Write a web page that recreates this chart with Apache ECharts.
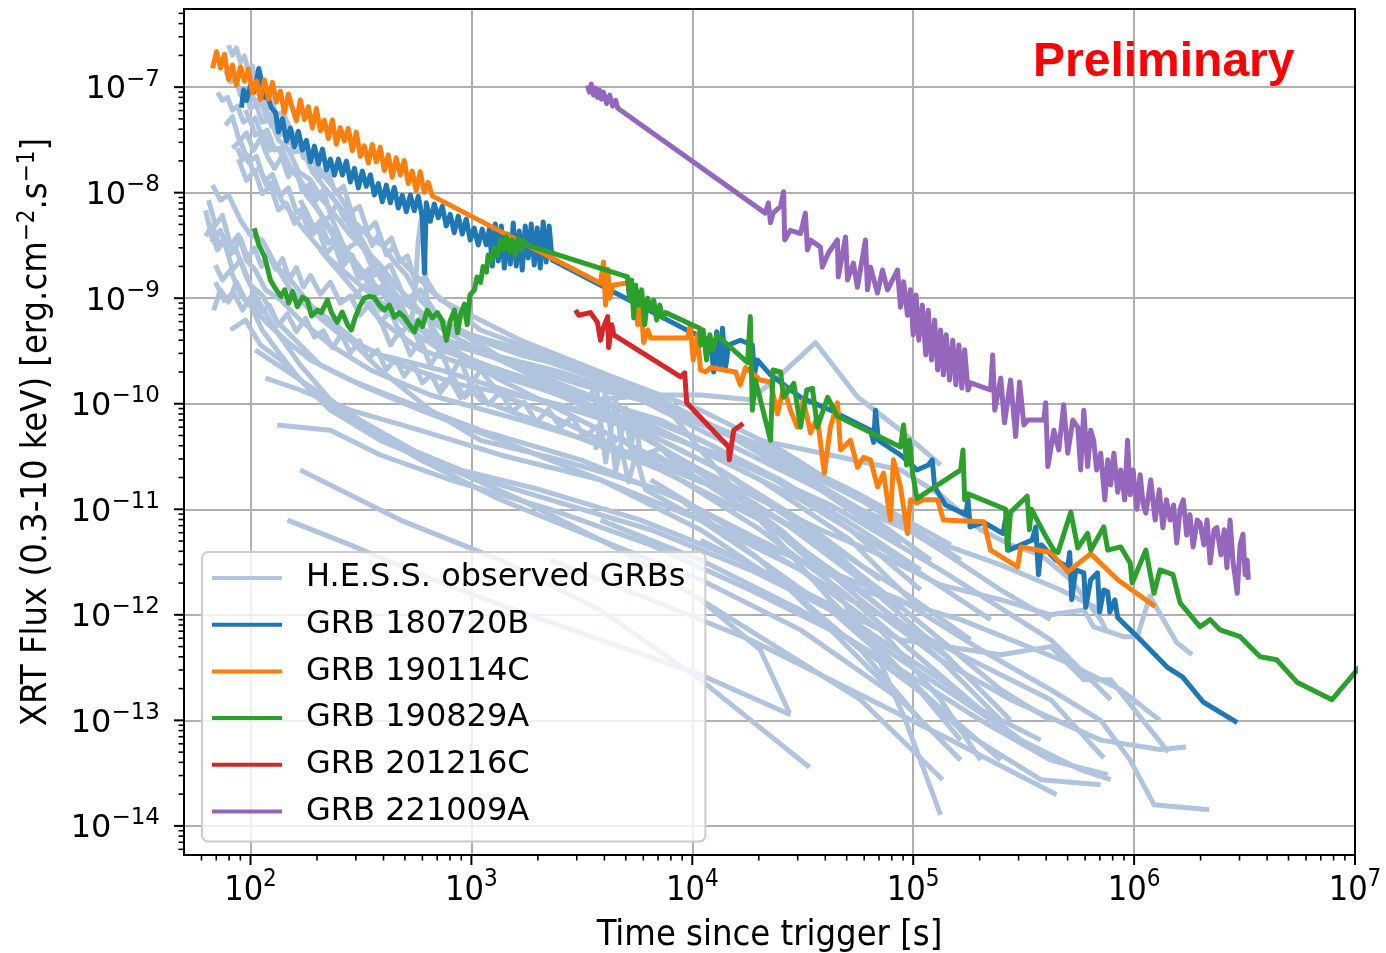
<!DOCTYPE html>
<html><head><meta charset="utf-8">
<script src="https://cdn.jsdelivr.net/npm/echarts@6/dist/echarts.min.js"></script>
<style>html,body{margin:0;padding:0;background:#fff}#c{width:1386px;height:953px}</style>
</head><body><div id="c"></div>
<script>
// ---------------- axes ----------------
const X_MIN = 50, X_MAX = 1e7;
const Y_MIN = 5.3e-15, Y_MAX = 5.5e-7;
const xTickExponents = [2, 3, 4, 5, 6, 7];
const yTickExponents = [-14, -13, -12, -11, -10, -9, -8, -7];
const HESS = 'H.E.S.S. observed GRBs';
const seriesNames = [HESS, 'GRB 180720B', 'GRB 190114C', 'GRB 190829A', 'GRB 201216C', 'GRB 221009A'];
const seriesColors = ['#b0c4de', '#1f77b4', '#ff7f0e', '#2ca02c', '#d62728', '#9467bd'];

// ---------------- H.E.S.S. light curves [time s, flux] ----------------
const hess01 = [[79.5,2.5e-7],[82.8,2.01e-7],[86.3,2.35e-7],[90.1,1.73e-7],[93.9,1.97e-7],[97.9,1.39e-7],[102,1.58e-7],[106,1.04e-7],[111,1.16e-7],[117,7.5e-8],[123,8.4e-8],[131,5.4e-8],[140,5.8e-8],[152,3.9e-8],[165,3.3e-8],[179,2.53e-8],[197,1.95e-8],[218,1.38e-8],[242,1.06e-8],[269,7.6e-9],[307,4.2e-9],[349,2.56e-9],[387,1.56e-9],[430,1.14e-9],[477,9.6e-10],[652,6.2e-10],[1355,3.6e-10],[3840,1.68e-10],[10900,7.0e-11],[30900,2.36e-11],[87600,7.9e-12],[164000,3.3e-12]];
const hess02 = [[70.9,8.9e-8],[74.6,7.5e-8],[78.7,8.0e-8],[82.8,6.06e-8],[87.3,6.6e-8],[92.9,4.66e-8],[99,5.1e-8],[105,3.51e-8],[113,3.75e-8],[123,2.53e-8],[134,2.64e-8],[147,1.71e-8],[162,1.47e-8],[179,9.5e-9],[203,6.8e-9],[230,4.6e-9],[269,2.98e-9],[314,1.93e-9],[367,1.33e-9],[430,9.6e-10],[529,6.2e-10],[724,4.0e-10],[1355,2.6e-10],[3840,1.09e-10],[10900,4.5e-11],[25100,1.9e-11],[57700,6.4e-12],[108000,2.67e-12]];
const hess03 = [[77,1.45e-7],[81.2,1.12e-7],[85.5,1.21e-7],[90.1,8.4e-8],[94.9,9.37e-8],[100,6.3e-8],[106,6.9e-8],[113,4.66e-8],[123,4.87e-8],[134,3.15e-8],[149,2.53e-8],[165,1.57e-8],[187,1.32e-8],[212,8.5e-9],[242,6.1e-9],[283,3.97e-9],[331,2.86e-9],[387,2.06e-9],[453,1.33e-9],[529,9.6e-10],[619,6.5e-10],[892,4.0e-10],[2050,1.68e-10],[5840,5.6e-11],[13400,2.36e-11],[30900,7.9e-12],[71100,2.15e-12]];
const hess04 = [[100,9.37e-8],[105,7.2e-8],[111,7.8e-8],[118,5.1e-8],[126,5.55e-8],[135,3.51e-8],[146,3.75e-8],[158,2.43e-8],[172,2.53e-8],[191,1.57e-8],[212,1.18e-8],[240,8.5e-9],[272,6.1e-9],[307,4.9e-9],[349,3.7e-9],[395,3.19e-9],[448,2.2e-9],[507,1.66e-9],[588,9.6e-10],[724,6.2e-10],[1670,2.09e-10],[4740,8.7e-11],[10900,3.65e-11],[30900,1.23e-11],[87600,3.3e-12],[224000,9.0e-13]];
const hess05 = [[94.9,6.06e-8],[100,4.66e-8],[105,5.1e-8],[112,3.51e-8],[119,3.92e-8],[129,2.53e-8],[138,2.64e-8],[152,1.71e-8],[168,1.32e-8],[191,8.5e-9],[218,5.2e-9],[250,3.19e-9],[289,2.2e-9],[334,1.49e-9],[387,1.14e-9],[453,8.6e-10],[541,5.95e-10],[665,4.0e-10],[1355,1.68e-10],[3840,5.6e-11],[10900,1.9e-11],[27800,5.1e-12],[64100,1.39e-12],[148000,3.75e-13]];
const hess06 = [[430,1.2e-9],[467,8.6e-10],[502,6.5e-10],[529,5.0e-10],[552,9.6e-10],[575,3.56e-9],[594,5.85e-9],[613,2.56e-9],[631,7.7e-10],[665,4.5e-10],[763,3.6e-10],[1100,3.1e-10],[2530,2.0e-10],[7190,9.8e-11],[20300,4.05e-11],[57700,1.37e-11],[148000,4.6e-12]];
const hess07 = [[87.3,2.64e-8],[92,2.04e-8],[96.9,2.27e-8],[103,1.57e-8],[110,1.71e-8],[118,1.18e-8],[127,1.26e-8],[138,8.5e-9],[152,6.5e-9],[168,4.9e-9],[191,3.56e-9],[218,2.56e-9],[255,1.93e-9],[301,1.43e-9],[356,1.07e-9],[430,7.7e-10],[529,5.0e-10],[724,3.24e-10],[1355,2.09e-10],[2530,1.35e-10],[7190,7.0e-11],[20300,2.36e-11],[52000,6.4e-12],[108000,1.72e-12]];
const hess08 = [[64.6,8.5e-9],[69.4,4.9e-9],[74.6,6.1e-9],[81.2,3.19e-9],[88.2,3.97e-9],[95.9,2.3e-9],[105,1.85e-9],[117,1.2e-9],[137,9.6e-10],[168,6.2e-10],[230,3.6e-10],[349,2.09e-10],[652,1.21e-10],[1670,7.0e-11],[4740,3.65e-11],[13400,1.53e-11],[38000,5.1e-12],[87600,1.72e-12],[182000,5.8e-13]];
const hess09 = [[65.9,4.4e-9],[70.9,2.86e-9],[76.2,3.56e-9],[82.8,1.85e-9],[90.1,2.3e-9],[100,1.33e-9],[113,1.07e-9],[130,6.2e-10],[160,4.0e-10],[207,2.33e-10],[314,1.51e-10],[588,8.7e-11],[1355,4.5e-11],[3840,1.9e-11],[10900,6.4e-12],[27800,1.72e-12],[57700,4.67e-13],[108000,1.0e-13]];
const hess10 = [[68.1,7.7e-10],[73.1,1.2e-9],[79.5,9.2e-10],[86.3,1.43e-9],[94.9,9.6e-10],[105,7.7e-10],[121,5.6e-10],[144,4.0e-10],[187,2.6e-10],[283,1.68e-10],[477,1.09e-10],[1100,5.6e-11],[3120,2.94e-11],[8860,1.23e-11],[20300,3.3e-12],[46900,5.8e-13],[87600,1.57e-13]];
const hess11 = [[69.4,2.06e-9],[74.6,1.49e-9],[81.2,1.85e-9],[90.1,1.07e-9],[100,8.6e-10],[113,5.0e-10],[137,2.9e-10],[168,1.68e-10],[230,8.7e-11],[387,4.5e-11],[804,2.36e-11],[2280,1.23e-11],[6480,6.4e-12],[18300,2.67e-12],[52000,9.0e-13],[133000,2.42e-13],[307000,6.5e-14]];
const hess12 = [[62.6,6.8e-9],[67.3,3.56e-9],[73.1,4.4e-9],[79.5,2.56e-9],[86.3,2.86e-9],[94.9,1.66e-9],[108,9.6e-10],[130,5.0e-10],[168,2.33e-10],[230,1.09e-10],[349,5.6e-11],[588,2.94e-11],[1355,1.23e-11],[3840,5.1e-12],[10900,2.15e-12],[30900,7.2e-13],[87600,1.57e-13],[164000,4.2e-14]];
const hess13 = [[67.3,1.18e-8],[73.1,8.5e-9],[79.5,9.5e-9],[90.1,5.5e-9],[100,3.97e-9],[113,3.56e-9],[130,2.06e-9],[152,1.2e-9],[187,7.7e-10],[255,4.5e-10],[387,2.9e-10],[724,2.09e-10],[1670,1.21e-10],[4740,7.0e-11],[13400,3.27e-11],[42200,1.1e-11],[133000,2.67e-12],[419000,5.8e-13],[784000,1.57e-13]];
const hess14 = [[132,6.3e-11],[230,5.6e-11],[387,3.27e-11],[804,1.9e-11],[2280,1.0e-11],[6480,4.6e-12],[18300,1.72e-12],[52000,5.8e-13],[120000,1.57e-13],[249000,4.2e-14]];
const hess15 = [[147,7.9e-12],[283,4.6e-12],[588,2.39e-12],[1355,1.24e-12],[3840,5.8e-13],[10900,2.71e-13],[27800,1.13e-13]];
const hess16 = [[117,1.75e-10],[168,1.35e-10],[283,8.7e-11],[588,5.6e-11],[1355,3.27e-11],[3840,1.9e-11],[10900,7.9e-12],[30900,2.67e-12],[71100,7.2e-13],[133000,1.57e-13],[202000,4.2e-14]];
const hess17 = [[168,9.6e-10],[230,6.2e-10],[314,3.6e-10],[477,2.33e-10],[892,1.51e-10],[2050,1.09e-10],[4740,6.3e-11],[10900,2.36e-11],[25100,6.4e-12],[57700,1.39e-12],[133000,3.75e-13],[276000,1.57e-13],[706000,6.5e-14],[1310000,5.3e-14],[1720000,5.6e-14]];
const hess18 = [[207,2.86e-9],[283,1.33e-9],[387,6.2e-10],[588,3.24e-10],[1100,2.09e-10],[2530,1.21e-10],[6480,4.5e-11],[16500,1.23e-11],[38000,2.67e-12],[64100,5.8e-13],[92300,1.0e-13],[133000,1.27e-14]];
const hess19 = [[255,6.8e-9],[349,2.3e-9],[477,9.6e-10],[804,5.0e-10],[1670,2.9e-10],[3840,1.88e-10],[7190,1.09e-10],[10900,3.65e-11],[20300,7.9e-12],[42200,1.39e-12],[87600,3.02e-13],[164000,8.1e-14],[378000,2.74e-14],[706000,2.45e-14]];
const hess20 = [[3650,1.09e-10],[6480,1.21e-10],[10900,1.21e-10],[18300,1.09e-10],[25100,1.88e-10],[36100,3.8e-10],[56000,1.16e-10],[87600,5.6e-11],[133000,2.63e-11]];
const hess21 = [[5840,3.27e-11],[10900,2.36e-11],[20300,1.23e-11],[38000,6.4e-12],[71100,3.7e-12],[133000,1.92e-12],[249000,1.39e-12],[419000,1.0e-12],[592000,1.11e-12],[656000,7.7e-13],[898000,6.2e-13],[1032000,6.2e-13],[1180000,1.5e-12],[1560000,5.45e-13],[1830000,4.19e-13]];
const hess22 = [[10900,7.9e-12],[30900,3.3e-12],[87600,1.39e-12],[202000,4.67e-13],[419000,1.95e-13],[706000,1.0e-13],[960000,4.2e-14],[1230000,1.59e-14],[2190000,1.42e-14]];
const hess23 = [[3840,7.9e-12],[10900,3.3e-12],[30900,1.11e-12],[87600,3.02e-13],[202000,1.0e-13],[419000,4.2e-14],[760000,3.05e-14]];
const hess24 = [[2280,3.3e-12],[6480,1.39e-12],[18300,5.8e-13],[52000,1.95e-13],[148000,6.5e-14],[446000,1.97e-14]];
const hess25 = [[6480,1.9e-11],[18300,5.1e-12],[52000,1.39e-12],[148000,4.67e-13],[419000,1.57e-13],[729000,4.4e-14]];
const hess26 = [[10900,1.39e-12],[25100,4.67e-13],[57700,1.57e-13],[136000,2.74e-14]];
const hess27 = [[10900,5.1e-12],[30900,1.72e-12],[87600,5.8e-13],[249000,4.19e-13],[419000,5.0e-13],[592000,2.42e-13],[784000,2.42e-13],[1065000,1.08e-13],[1430000,5.0e-14]];
const hess28 = [[20300,4.5e-11],[42200,3.27e-11],[87600,2.36e-11],[133000,1.37e-11],[202000,6.4e-12],[276000,4.6e-12],[378000,3.7e-12],[517000,2.15e-12],[706000,9.0e-13],[744000,7.2e-13]];
const hess29 = [[3460,1.09e-10],[3650,1.75e-10],[3840,7.0e-11],[4050,1.35e-10],[4270,5.4e-11],[4500,1.13e-10],[4740,4.5e-11],[4990,9.1e-11],[5260,3.65e-11],[5540,7.3e-11],[5840,2.94e-11],[6480,3.5e-11],[10900,1.9e-11],[20300,1.0e-11],[38000,4.6e-12],[71100,1.72e-12],[133000,5.8e-13],[249000,1.95e-13],[419000,1.0e-13]];
const hess30 = [[3650,3.65e-11],[3840,7.0e-11],[4050,2.8e-11],[4270,5.6e-11],[4500,2.27e-11],[4740,4.05e-11],[5150,1.82e-11],[5540,3.27e-11],[6150,1.53e-11],[10900,7.9e-12],[20300,3.3e-12],[42200,1.11e-12],[87600,3.75e-13],[164000,1.57e-13],[307000,6.5e-14],[573000,3.4e-14],[784000,2.74e-14]];
const hess31 = [[387,6.2e-10],[430,3.6e-10],[477,5.0e-10],[529,2.9e-10],[588,4.0e-10],[652,2.33e-10],[724,3.24e-10],[804,1.88e-10],[892,2.6e-10],[990,1.51e-10],[1100,2.09e-10],[1355,1.21e-10],[2050,8.7e-11],[3840,4.5e-11],[8860,1.9e-11],[20300,6.4e-12],[46900,1.72e-12],[97200,4.67e-13],[202000,1.26e-13],[378000,6.5e-14]];
const hess32 = [[168,2.36e-11],[477,7.9e-12],[1355,3.3e-12],[3840,1.11e-12],[10900,2.42e-13],[33900,3.6e-14]];
const hess33 = [[105,3.24e-10],[168,1.68e-10],[314,7.0e-11],[652,2.94e-11],[1670,1.23e-11],[4740,4.1e-12],[10900,1.39e-12],[20300,4.67e-13],[27500,1.18e-13]];
const hess34 = [[81.2,5.0e-10],[94.9,6.2e-10],[111,3.6e-10],[137,2.6e-10],[187,1.35e-10],[283,7.0e-11],[477,4.05e-11],[892,2.36e-11],[2050,1.53e-11],[5840,7.9e-12],[16500,3.3e-12],[42200,1.11e-12],[97200,2.42e-13],[164000,6.5e-14]];
const hess35 = [[123,2.3e-9],[152,1.49e-9],[187,8.6e-10],[255,5.0e-10],[387,2.09e-10],[652,8.7e-11],[1100,4.5e-11],[2530,2.94e-11],[7190,1.53e-11],[20300,5.1e-12],[57700,1.72e-12],[164000,9.0e-13],[465000,3.75e-13],[870000,1.95e-13],[1310000,1.0e-13]];
const hess36 = [[283,9.6e-10],[331,1.33e-9],[387,7.7e-10],[453,9.6e-10],[529,5.6e-10],[619,6.9e-10],[724,4.0e-10],[990,3.24e-10],[1670,2.33e-10],[3120,1.51e-10],[5840,1.09e-10],[10900,5.6e-11],[25100,2.36e-11],[57700,1.0e-11],[120000,5.1e-12],[249000,2.97e-12],[465000,1.72e-12],[706000,1.11e-12]];
const hess37 = [[168,8.5e-9],[197,4.4e-9],[230,6.1e-9],[269,2.86e-9],[314,3.56e-9],[367,1.66e-9],[430,2.06e-9],[502,9.6e-10],[588,1.2e-9],[724,6.2e-10],[990,4.5e-10],[2050,2.9e-10],[4740,1.68e-10],[10900,8.7e-11],[25100,3.65e-11],[57700,1.23e-11],[133000,4.1e-12],[249000,1.72e-12],[419000,9.0e-13]];
const hess38 = [[82.8,2.64e-8],[90.1,3.08e-8],[97.9,1.94e-8],[106.4,2.21e-8],[115.7,1.28e-8],[125.7,1.49e-8],[136.6,9.4e-9],[148.5,1.11e-8],[161.4,6.47e-9],[175.4,7.2e-9],[190.6,4.45e-9],[207.2,5.4e-9],[225.1,3.33e-9],[244.7,3.88e-9],[265.9,2.3e-9],[289,2.55e-9],[314.1,1.54e-9],[341.4,1.87e-9],[371,1.19e-9],[403.3,1.35e-9],[438.3,7.8e-10],[476.3,9.07e-10],[528.9,5.48e-10],[586.5,5.0e-10],[892,3.6e-10],[2050,2.09e-10],[5840,1.09e-10],[16500,4.5e-11],[46900,1.23e-11],[87600,5.1e-12]];
const hess39 = [[62.6,3.88e-9],[67.3,4.89e-9],[72.4,3.13e-9],[77.9,3.94e-9],[83.8,2.76e-9],[90.1,3.7e-9],[96.9,2.42e-9],[104.3,2.99e-9],[112.1,2.0e-9],[120.6,2.69e-9],[129.8,1.88e-9],[139.6,2.37e-9],[150.1,1.51e-9],[161.4,1.95e-9],[173.7,1.28e-9],[186.8,1.64e-9],[207.2,1.09e-9],[229.9,1.42e-9],[255.1,8.97e-10],[283.1,1.05e-9],[314.1,6.93e-10],[348.5,9.03e-10],[386.8,5.98e-10],[429.2,7.45e-10],[476.3,4.62e-10],[528.5,5.76e-10],[586.5,3.65e-10],[650.8,4.55e-10],[722.2,3.01e-10],[801.4,3.23e-10],[1670,1.68e-10],[4740,7.0e-11],[13400,2.36e-11],[38000,5.1e-12],[87600,1.11e-12]];
const hess40 = [[105.3,6.47e-8],[114.5,7.43e-8],[124.5,4.25e-8],[135.3,4.88e-8],[147,2.97e-8],[159.8,3.57e-8],[173.7,2.14e-8],[188.8,2.35e-8],[205.2,1.37e-8],[223.1,1.64e-8],[242.5,9.83e-9],[263.5,1.15e-8],[286.5,6.6e-9],[311.4,7.42e-9],[338.4,4.43e-9],[367.9,5.2e-9],[399.9,3.11e-9],[434.6,3.72e-9],[472.4,2.23e-9],[513.5,2.5e-9],[558.1,1.43e-9],[619.3,1.57e-9],[687.2,1.09e-9],[1100,5.0e-10],[2530,2.6e-10],[7190,1.09e-10],[20300,3.65e-11],[57700,1.0e-11],[120000,3.3e-12]];
const hess41 = [[88.2,2.08e-8],[95.9,1.31e-8],[104.3,1.62e-8],[113.3,9.78e-9],[123.2,1.16e-8],[133.8,6.85e-9],[145.4,7.94e-9],[158.1,5.11e-9],[171.8,6.33e-9],[186.7,3.9e-9],[203,4.52e-9],[220.6,2.67e-9],[239.8,3.23e-9],[260.6,1.99e-9],[283.2,2.47e-9],[307.8,1.52e-9],[334.6,1.76e-9],[363.6,1.04e-9],[395.2,1.23e-9],[429.5,7.76e-10],[476.3,9.25e-10],[528.9,5.36e-10],[586.5,5.13e-10],[990,2.6e-10],[2530,1.21e-10],[7190,5.6e-11],[20300,1.9e-11],[52000,5.1e-12],[108000,1.11e-12]];
const hess42 = [[724,1.44e-10],[820,1.83e-10],[930,1.15e-10],[1053,1.46e-10],[1193,9.83e-11],[1355,1.3e-10],[1530,8.38e-11],[1730,1.04e-10],[1970,6.7e-11],[2230,8.85e-11],[2530,5.97e-11],[2860,7.55e-11],[3240,4.77e-11],[3670,6.03e-11],[4160,3.89e-11],[4740,4.92e-11],[5840,3.12e-11],[7190,3.81e-11],[8860,2.47e-11],[10900,2.36e-11],[25100,7.9e-12],[57700,2.15e-12],[133000,4.67e-13],[276000,1.0e-13]];
const hess43 = [[77,4.36e-8],[82.8,5.24e-8],[89.1,3.07e-8],[95.9,3.68e-8],[103.2,2.51e-8],[111,3.29e-8],[119.4,2.19e-8],[128.4,1.7e-8],[138.1,2.18e-8],[148.5,1.42e-8],[159.8,1.79e-8],[171.8,1.02e-8],[184.8,1.2e-8],[198.7,8.55e-9],[213.8,1.07e-8],[230,6.27e-9],[247.4,7.87e-9],[266,5.6e-9],[286.2,6.73e-9],[307.8,3.93e-9],[331.1,4.72e-9],[356.1,3.15e-9],[383.1,4.13e-9],[412,2.58e-9],[443.2,3.03e-9],[476.3,2.3e-9],[724,9.6e-10],[1670,4.0e-10],[4740,1.68e-10],[13400,5.6e-11],[38000,1.53e-11],[87600,4.6e-12]];
const hess44 = [[69.4,1.42e-9],[76.2,9.47e-10],[83.7,1.13e-9],[92,7.7e-10],[101,1.05e-9],[111,7.29e-10],[121.9,8.55e-10],[133.8,5.56e-10],[147,7.1e-10],[161.4,4.83e-10],[177.4,6.44e-10],[194.7,4.28e-10],[213.8,4.91e-10],[234.9,3.4e-10],[258,4.55e-10],[283.2,3.03e-10],[311.1,3.95e-10],[341.6,2.69e-10],[375.2,3.22e-10],[412,2.09e-10],[452.5,2.67e-10],[497,1.82e-10],[545.8,2.42e-10],[599.3,1.58e-10],[658.2,1.89e-10],[722.8,1.28e-10],[801.4,1.7e-10],[892,1.14e-10],[989.6,1.39e-10],[1100,1.09e-10],[2530,5.6e-11],[7190,2.36e-11],[20300,7.9e-12],[57700,1.72e-12],[133000,3.75e-13],[249000,1.0e-13]];
const hessCurves = [hess01,hess02,hess03,hess04,hess05,hess06,hess07,hess08,hess09,hess10,hess11,hess12,hess13,hess14,hess15,hess16,hess17,hess18,hess19,hess20,hess21,hess22,hess23,hess24,hess25,hess26,hess27,hess28,hess29,hess30,hess31,hess32,hess33,hess34,hess35,hess36,hess37,hess38,hess39,hess40,hess41,hess42,hess43,hess44];

// ---------------- highlighted GRBs [time s, flux] ----------------
const grb180720B = [[91,6.4e-8],[93,9.4e-8],[96,7.5e-8],[100,1.04e-7],[104,9.0e-8],[109,1.5e-7],[112,1.16e-7],[116,8.0e-8],[119,8.4e-8],[124,6.4e-8],[130,5.7e-8],[133.8,3.75e-8],[139.5,5.03e-8],[145.4,3.09e-8],[151.6,4.09e-8],[158.1,2.72e-8],[164.8,3.81e-8],[171.8,2.53e-8],[179.1,3.13e-8],[186.7,1.96e-8],[194.7,2.76e-8],[203,1.87e-8],[211.6,2.59e-8],[220.6,1.64e-8],[230,2.08e-8],[239.8,1.47e-8],[250,2.08e-8],[260.6,1.47e-8],[271.7,1.99e-8],[283.2,1.26e-8],[295.3,1.7e-8],[307.8,1.11e-8],[320.9,1.6e-8],[334.6,1.15e-8],[348.8,1.48e-8],[363.6,9.5e-9],[379.1,1.22e-8],[395.2,8.2e-9],[412,1.18e-8],[429.5,8.02e-9],[447.8,1.12e-8],[466.8,7.15e-9],[486.7,9.43e-9],[507.4,6.6e-9],[528.9,9.5e-9],[551.4,6.74e-9],[574.9,9.22e-9],[599.3,5.87e-9],[613,1.73e-9],[624.8,8.02e-9],[651.4,5.35e-9],[679.1,7.8e-9],[707.9,5.79e-9],[738.1,7.42e-9],[769.4,4.83e-9],[802.1,6.23e-9],[836.3,4.17e-9],[871.8,6.0e-9],[908.9,4.06e-9],[947.5,5.62e-9],[987.8,3.56e-9],[1029.8,4.62e-9],[1073.6,3.19e-9],[1119.2,4.52e-9],[1166.8,3.21e-9],[1206,4.52e-9],[1244,2.02e-9],[1283,5.05e-9],[1324,2.25e-9],[1366,4.83e-9],[1409,1.93e-9],[1454,4.06e-9],[1500,2.11e-9],[1547,5.15e-9],[1596,2.02e-9],[1647,4.33e-9],[1699,1.85e-9],[1753,4.83e-9],[1808,2.4e-9],[1866,5.05e-9],[1925,2.06e-9],[1986,4.62e-9],[2049,1.93e-9],[2113,5.27e-9],[2180,2.2e-9],[2249,4.83e-9],[2321,2.3e-9],[9790,4.8e-10],[12100,4.0e-10],[12500,2.0e-10],[12900,4.8e-10],[13300,2.2e-10],[13700,5.2e-10],[14100,2.09e-10],[14600,3.6e-10],[16500,4.0e-10],[18700,3.6e-10],[19100,1.88e-10],[19700,2.6e-10],[22600,1.88e-10],[30900,1.15e-10],[42200,8.7e-11],[64100,5.6e-11],[66200,4.3e-11],[67500,8.7e-11],[69600,4.5e-11],[87600,3.27e-11],[104000,2.36e-11],[117000,2.63e-11],[122000,2.94e-11],[125000,1.63e-11],[140000,1.1e-11],[173000,8.9e-12],[177000,1.23e-11],[181000,6.8e-12],[209000,7.5e-12],[255000,5.9e-12],[262000,8.1e-12],[271000,4.1e-12],[345000,5.1e-12],[359000,6.8e-12],[369000,2.4e-12],[381000,4.6e-12],[442000,3.3e-12],[501000,2.85e-12],[511000,3.9e-12],[522000,1.39e-12],[544000,2.67e-12],[592000,2.5e-12],[604000,1.18e-12],[636000,2.15e-12],[683000,2.5e-12],[698000,1.06e-12],[729000,1.72e-12],[760000,1.65e-12],[776000,1.06e-12],[818000,1.39e-12],[843000,9.4e-13],[1035000,6.2e-13],[1410000,3.2e-13],[1660000,2.57e-13],[2050000,1.5e-13],[2930000,9.5e-14]];
const grb190114C = [[67.3,1.51e-7],[70.2,2.17e-7],[73.1,1.52e-7],[76.2,2.05e-7],[79.5,1.18e-7],[82.8,1.62e-7],[86.3,1.04e-7],[90.1,1.56e-7],[93.9,1.14e-7],[97.9,1.48e-7],[102.1,8.85e-8],[106.4,1.14e-7],[110.9,7.64e-8],[115.7,1.17e-7],[120.6,7.7e-8],[125.7,1.11e-7],[131.1,7.24e-8],[136.6,9.15e-8],[142.4,5.73e-8],[148.5,8.62e-8],[154.8,6.3e-8],[161.4,4.8e-8],[168.2,7.55e-8],[175.4,4.94e-8],[182.8,6.52e-8],[190.6,4.09e-8],[198.7,6.27e-8],[207.2,3.85e-8],[216,4.86e-8],[225.1,3.26e-8],[234.7,4.89e-8],[244.7,2.87e-8],[255.1,4.13e-8],[265.9,3.09e-8],[277.2,4.07e-8],[289,2.5e-8],[301.3,3.75e-8],[314.1,2.21e-8],[327.5,2.78e-8],[341.4,1.91e-8],[355.9,2.86e-8],[371,1.96e-8],[386.8,2.7e-8],[403.3,1.62e-8],[420.4,2.28e-8],[438.3,1.4e-8],[456.9,2.14e-8],[476.3,1.47e-8],[496.6,2.02e-8],[517.7,1.22e-8],[539.7,1.6e-8],[562.6,1.05e-8],[586.5,1.58e-8],[611.5,1.01e-8],[637.5,1.25e-8],[664.6,9.33e-9],[3840,1.39e-9],[3960,2.2e-9],[4050,8.6e-10],[4140,1.89e-9],[4230,1.0e-9],[4360,1.33e-9],[5260,1.41e-9],[5480,1.2e-9],[5660,5.6e-10],[5840,9.6e-10],[6020,3.8e-10],[6280,5.0e-10],[6480,4.2e-10],[9530,4.2e-10],[9790,5.6e-10],[10100,2.6e-10],[10550,4.5e-10],[10900,2.09e-10],[11500,2.0e-10],[12100,2.2e-10],[15700,2.0e-10],[16500,1.51e-10],[17400,2.2e-10],[20300,1.68e-10],[22600,1.61e-10],[24300,8.0e-11],[25900,1.44e-10],[27800,8.7e-11],[29900,6.0e-11],[31800,1.09e-10],[34300,5.3e-11],[36800,7.4e-11],[39600,2.2e-11],[42200,6.0e-11],[45400,1.02e-10],[46900,3.65e-11],[52000,4.5e-11],[56000,2.5e-11],[59500,3.1e-11],[64100,2.94e-11],[69000,1.63e-11],[73400,2.2e-11],[78900,7.9e-12],[81400,2.94e-11],[87600,1.63e-11],[94200,5.9e-12],[97200,1.23e-11],[104000,1.15e-11],[111000,1.23e-11],[129000,1.23e-11],[137000,7.9e-12],[209000,7.6e-12],[224000,4.1e-12],[297000,2.85e-12],[307000,4.4e-12],[419000,3.9e-12],[501000,2.55e-12],[636000,3.8e-12],[843000,2.15e-12],[1245000,1.2e-12]];
const grb190829A = [[104,4.6e-9],[109,3.2e-9],[116,2.45e-9],[123,1.49e-9],[128,1.29e-9],[137,1.04e-9],[143,1.2e-9],[149,9.0e-10],[155,1.16e-9],[163,8.3e-10],[172,1.02e-9],[181,9.6e-10],[189,6.8e-10],[201,7.7e-10],[209,7.3e-10],[223,9.6e-10],[232,7.4e-10],[247,5.9e-10],[260,7.4e-10],[275,5.6e-10],[286,5.0e-10],[298,6.6e-10],[314,8.6e-10],[327,1.0e-9],[345,1.04e-9],[363,1.02e-9],[383,8.6e-10],[404,7.7e-10],[425,8.6e-10],[448,6.6e-10],[472,7.3e-10],[497,6.6e-10],[524,5.6e-10],[552,4.8e-10],[575,6.1e-10],[600,5.4e-10],[631,7.7e-10],[665,6.5e-10],[701,7.3e-10],[738,6.1e-10],[771,4.0e-10],[804,6.2e-10],[838,7.7e-10],[866,4.7e-10],[892,6.9e-10],[930,8.8e-10],[956,5.6e-10],[985,1.07e-9],[1032,1.2e-9],[1060,1.59e-9],[1100,1.41e-9],[1130,2.0e-9],[1170,1.77e-9],[1190,2.56e-9],[1230,2.2e-9],[1270,3.0e-9],[1310,2.56e-9],[1355,3.56e-9],[1400,2.86e-9],[1440,3.8e-9],[1490,2.75e-9],[1530,3.56e-9],[1580,2.56e-9],[1630,3.7e-9],[1680,2.86e-9],[1730,3.5e-9],[1790,3.19e-9],[5090,1.59e-9],[5200,9.6e-10],[5310,1.49e-9],[5430,6.5e-10],[5540,1.33e-9],[5720,8.6e-10],[5900,1.2e-9],[6090,5.6e-10],[6280,1.0e-9],[6480,7.7e-10],[6690,9.6e-10],[6900,6.2e-10],[7120,8.6e-10],[7350,6.5e-10],[7580,7.3e-10],[10800,5.2e-10],[10900,3.6e-10],[11200,5.0e-10],[11600,2.6e-10],[12000,4.5e-10],[12400,3.24e-10],[12900,4.5e-10],[17800,2.45e-10],[18300,6.7e-10],[18700,8.7e-11],[19300,1.68e-10],[22600,4.5e-11],[23200,2.09e-10],[25100,2.0e-10],[25900,1.15e-10],[28800,1.56e-10],[30900,6.0e-11],[33000,1.35e-10],[35000,1.4e-10],[36800,6.0e-11],[41000,1.15e-10],[45400,7.6e-11],[87600,3.9e-11],[90500,6.3e-11],[93300,2.63e-11],[96300,4.5e-11],[99300,2.2e-11],[104000,1.26e-11],[164000,2.36e-11],[168000,3.65e-11],[171000,1.23e-11],[177000,1.4e-11],[262000,1.0e-11],[267000,4.1e-12],[276000,9.4e-12],[328000,1.33e-11],[336000,6.4e-12],[343000,1.0e-11],[390000,6.0e-12],[433000,4.1e-12],[452000,3.9e-12],[517000,9.4e-12],[556000,4.3e-12],[616000,5.9e-12],[636000,4.1e-12],[729000,6.8e-12],[760000,4.1e-12],[870000,4.4e-12],[960000,3.1e-12],[980000,2.0e-12],[1130000,4.1e-12],[1230000,1.6e-12],[1310000,2.67e-12],[1500000,2.4e-12],[1615000,1.3e-12],[1990000,7.7e-13],[2210000,9.0e-13],[2450000,7.2e-13],[3020000,6.2e-13],[3720000,4.0e-13],[4420000,3.75e-13],[5460000,2.3e-13],[7870000,1.57e-13],[11700000,4.2e-13]];
const grb201216C = [[2960,7.7e-10],[3060,6.9e-10],[3460,7.3e-10],[3720,5.9e-10],[3840,4.0e-10],[3960,5.3e-10],[4140,6.7e-10],[4180,3.4e-10],[4320,5.6e-10],[4410,4.5e-10],[8860,1.8e-10],[9240,1.96e-10],[9430,1.02e-10],[14600,3.9e-11],[14700,2.94e-11],[15400,5.6e-11],[17000,6.5e-11]];
const grb221009A = [[3350,1.04e-7],[3420,8.97e-8],[3490,1.07e-7],[3570,8.4e-8],[3650,9.8e-8],[3720,8.0e-8],[3800,9.4e-8],[3880,7.7e-8],[3960,8.97e-8],[4100,7.0e-8],[4230,8.4e-8],[4360,6.6e-8],[4500,7.5e-8],[4600,6.3e-8],[21400,6.4e-9],[22100,8.0e-9],[22600,5.2e-9],[23200,6.4e-9],[25100,7.4e-9],[25900,1.02e-8],[26200,3.56e-9],[27800,4.4e-9],[30900,4.1e-9],[32500,6.4e-9],[33200,2.86e-9],[34300,3.56e-9],[38000,3.05e-9],[38800,1.97e-9],[41300,2.68e-9],[45400,3.56e-9],[45800,1.59e-9],[49400,3.8e-9],[50400,1.49e-9],[53600,2.15e-9],[55900,1.27e-9],[60800,3.56e-9],[62100,1.2e-9],[64100,1.97e-9],[68900,1.12e-9],[72600,1.85e-9],[76500,1.2e-9],[84900,1.85e-9],[87600,8.2e-10],[90500,1.43e-9],[94200,6.9e-10],[97200,1.2e-9],[100000,4.5e-10],[103000,1.07e-9],[106000,4.0e-10],[110000,8.6e-10],[114000,2.9e-10],[117000,7.7e-10],[121000,2.6e-10],[125000,6.2e-10],[129000,2.09e-10],[133000,5.0e-10],[137000,1.88e-10],[141000,4.5e-10],[146000,1.68e-10],[151000,4.0e-10],[156000,1.51e-10],[161000,3.6e-10],[166000,1.41e-10],[171000,3.24e-10],[177000,1.35e-10],[182000,1.58e-10],[224000,1.35e-10],[229000,2.9e-10],[234000,8.7e-11],[249000,1.75e-10],[259000,6.6e-11],[276000,1.68e-10],[291000,4.9e-11],[303000,1.61e-10],[317000,6.3e-11],[330000,7.0e-11],[390000,7.0e-11],[398000,1.02e-10],[407000,2.54e-11],[433000,5.6e-11],[456000,3.65e-11],[480000,9.8e-11],[501000,3.4e-11],[528000,7.0e-11],[556000,6.0e-11],[573000,2.36e-11],[592000,8.7e-11],[616000,2.54e-11],[636000,5.6e-11],[656000,4.5e-11],[677000,2.36e-11],[706000,3.4e-11],[737000,1.23e-11],[760000,2.94e-11],[784000,1.7e-11],[810000,3.4e-11],[843000,1.45e-11],[870000,2.36e-11],[907000,1.23e-11],[934000,4.5e-11],[960000,1.37e-11],[990000,2.36e-11],[1030000,1.0e-11],[1065000,2.12e-11],[1100000,1.1e-11],[1130000,9.2e-12],[1190000,1.9e-11],[1245000,7.9e-12],[1300000,1.53e-11],[1350000,6.7e-12],[1400000,1.23e-11],[1455000,7.9e-12],[1510000,1.1e-11],[1560000,4.8e-12],[1615000,1.0e-11],[1670000,1.23e-11],[1730000,5.7e-12],[1790000,8.9e-12],[1850000,4.4e-12],[1930000,7.9e-12],[1990000,7.4e-12],[2070000,4.6e-12],[2140000,7.9e-12],[2210000,3.1e-12],[2300000,6.4e-12],[2370000,6.7e-12],[2470000,3.7e-12],[2560000,6.4e-12],[2630000,2.8e-12],[2720000,7.9e-12],[2800000,3.3e-12],[2930000,1.6e-12],[3020000,4.6e-12],[3110000,5.8e-12],[3180000,2.4e-12],[3250000,3.3e-12],[3290000,2.15e-12]];
const highlighted = [grb180720B, grb190114C, grb190829A, grb201216C, grb221009A];

// ---------------- chart ----------------
const COND = '"DejaVu Sans Condensed", "Liberation Sans Narrow", "DejaVu Sans"';
const SANS = '"DejaVu Sans"';
const LINE_W = 5;

function powLabel(v, exps) {
  const l = Math.log10(v), e = Math.round(l);
  if (Math.abs(l - e) > 1e-6 || exps.indexOf(e) < 0) return '';
  return '{b|10}{s|' + (e < 0 ? '\u2212' : '') + Math.abs(e) + '}';
}

// minor tick positions (2..9 x 10^n) inside the axis range
function minorTicks(lo, hi) {
  const out = [];
  for (let d = Math.floor(Math.log10(lo)); d <= Math.ceil(Math.log10(hi)); d++) {
    for (let m = 2; m <= 9; m++) { const v = m * Math.pow(10, d); if (v > lo && v < hi) out.push(v); }
  }
  return out;
}
const xMajor = xTickExponents.map(e => Math.pow(10, e));
const yMajor = yTickExponents.map(e => Math.pow(10, e));

function tickSeries(values, axis, len, width) {
  return {
    type: 'custom', coordinateSystem: 'cartesian2d', silent: true, z: 10, clip: false, animation: false,
    data: values.map(v => axis === 'x' ? [v, Y_MIN] : [X_MIN, v]),
    renderItem: function (params, api) {
      const cs = params.coordSys;
      const p = api.coord([api.value(0), api.value(1)]);
      if (axis === 'x') {
        const y0 = cs.y + cs.height;
        return { type: 'line', shape: { x1: p[0], y1: y0, x2: p[0], y2: y0 + len }, style: { stroke: '#000', lineWidth: width } };
      }
      const x0 = cs.x;
      return { type: 'line', shape: { x1: x0 - len, y1: p[1], x2: x0, y2: p[1] }, style: { stroke: '#000', lineWidth: width } };
    }
  };
}

const series = [];
hessCurves.forEach(c => series.push({
  type: 'line', name: HESS, data: c, symbol: 'none', showSymbol: false, silent: true, z: 2,
  lineStyle: { color: seriesColors[0], width: LINE_W, join: 'round' }, itemStyle: { color: seriesColors[0] }
}));
highlighted.forEach((c, i) => series.push({
  type: 'line', name: seriesNames[i + 1], data: c, symbol: 'none', showSymbol: false, silent: true, z: 3,
  lineStyle: { color: seriesColors[i + 1], width: LINE_W, join: 'round' }, itemStyle: { color: seriesColors[i + 1] }
}));
series.push(tickSeries(xMajor, 'x', 10, 2));
series.push(tickSeries(minorTicks(X_MIN, X_MAX), 'x', 5.5, 1.6));
series.push(tickSeries(yMajor, 'y', 10, 2));
series.push(tickSeries(minorTicks(Y_MIN, Y_MAX), 'y', 5.5, 1.6));
// frame (spines)
series.push({
  type: 'custom', coordinateSystem: 'cartesian2d', silent: true, z: 11, clip: false,
  data: [[X_MIN, Y_MIN]],
  renderItem: function (params) {
    const cs = params.coordSys;
    return { type: 'rect', shape: { x: cs.x, y: cs.y, width: cs.width, height: cs.height }, style: { fill: 'none', stroke: '#000', lineWidth: 2 } };
  }
});

const supRich = (fam, base, sup) => ({
  b: { fontFamily: fam, fontSize: base, lineHeight: base + 6, color: '#000', verticalAlign: 'bottom' },
  s: { fontFamily: fam, fontSize: sup, lineHeight: 18, color: '#000', verticalAlign: 'top' }
});

const option = {
  animation: false,
  backgroundColor: '#fff',
  grid: { left: 184, right: 31, top: 9, bottom: 98, containLabel: false, outerBoundsMode: 'none' },
  xAxis: {
    type: 'log', logBase: 10, min: X_MIN, max: X_MAX,
    axisLine: { show: false }, axisTick: { show: false },
    splitLine: { show: true, lineStyle: { color: '#b0b0b0', width: 2 } },
    axisLabel: { margin: 13, formatter: v => powLabel(v, xTickExponents), rich: supRich(COND, 34, 24) },
    name: 'Time since trigger [s]', nameLocation: 'middle', nameGap: 60,
    nameTextStyle: { fontFamily: COND, fontSize: 36, color: '#000', lineHeight: 42 }
  },
  yAxis: {
    type: 'log', logBase: 10, min: Y_MIN, max: Y_MAX,
    axisLine: { show: false }, axisTick: { show: false },
    splitLine: { show: true, lineStyle: { color: '#b0b0b0', width: 2 } },
    axisLabel: { margin: 24, formatter: v => powLabel(v, yTickExponents), rich: supRich(SANS, 32, 23) },
    name: 'XRT Flux (0.3-10 keV) [erg.cm{s|\u22122}.s{s|\u22121}]', nameLocation: 'middle', nameGap: 126,
    nameTextStyle: { fontFamily: COND, fontSize: 36, color: '#000', lineHeight: 42,
      rich: { s: { fontFamily: COND, fontSize: 24, lineHeight: 18, verticalAlign: 'top', color: '#000' } } }
  },
  legend: {
    data: seriesNames, orient: 'vertical', left: 202, top: 552,
    icon: 'rect', itemWidth: 70, itemHeight: 4, itemGap: 10.7,
    padding: [8, 20, 12, 10], backgroundColor: 'rgba(255,255,255,0.8)',
    borderColor: '#cccccc', borderWidth: 2, borderRadius: 6, selectedMode: false,
    textStyle: { fontFamily: SANS, fontSize: 32, color: '#000', lineHeight: 36, padding: [0, 0, 0, 19] }
  },
  graphic: [{
    type: 'text', x: 1033, y: 63, z: 20,
    style: { text: 'Preliminary', fill: '#ff0000', font: 'bold 48px "Liberation Sans", Arial, sans-serif', textVerticalAlign: 'middle', verticalAlign: 'middle' }
  }],
  series: series
};

const chart = echarts.init(document.getElementById('c'), null, { renderer: 'canvas' });
chart.setOption(option);
</script></body></html>
